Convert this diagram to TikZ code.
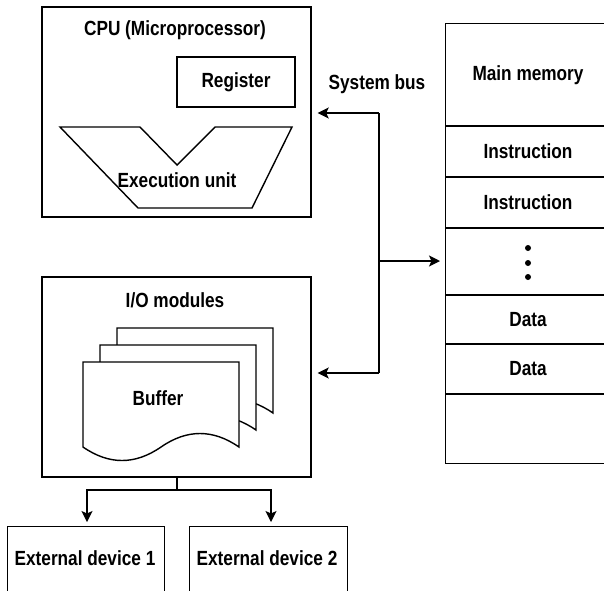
\documentclass[tikz,border=0pt]{standalone}
\usepackage{fontspec}
\setmainfont[FakeStretch=0.84,UprightFont={* Bold}]{Liberation Sans}
\usetikzlibrary{arrows.meta}
\tikzset{
  box/.style={draw, line width=1.4pt, rectangle, inner sep=0pt},
  txt/.style={font=\fontsize{20.5}{22}\selectfont, inner sep=0pt},
  arr/.style={line width=1.4pt, -{Stealth[length=11pt,width=11pt,inset=2.5pt]}},
  ln/.style={line width=1.4pt},
  docsh/.style={draw, line width=1.4pt, fill=white, line join=miter},
}
\newcommand\bufdoc[2]{%
  \path[docsh] (#1,#2) -- ++(156,0) -- ++(0,85)
    .. controls ++(-26,-18) and ++(26,-18) .. ++(-78,0)
    .. controls ++(-26,18) and ++(26,18) .. ++(-78,0) -- cycle;}
\begin{document}
\begin{tikzpicture}[x=1pt,y=-1pt]
\clip (0,0) rectangle (604,590);
\fill[white] (0,0) rectangle (604,590);
% CPU
\node[box, minimum width=269pt, minimum height=210pt] (cpu) at (176.5,112) {};
\node[txt] (cputitle) at (175,30) {CPU (Microprocessor)};
\node[box, minimum width=118pt, minimum height=50pt, txt] (reg) at (236,82) {Register};
\draw[ln, line join=miter] (60,127) -- (140,127) -- (177,165) -- (215,127) -- (292,127) -- (252,208) -- (138,208) -- cycle;
\node[txt] (exec) at (177,180) {Execution unit};
% I/O
\node[box, minimum width=269pt, minimum height=200pt] (io) at (176.5,377) {};
\node[txt] (iotitle) at (175,300) {I/O modules};
\bufdoc{117}{328}
\bufdoc{100}{345}
\bufdoc{83}{362}
\node[txt] (buffer) at (158,398) {Buffer};
% Memory
\node[box, minimum width=166pt, minimum height=440pt, anchor=north west] (mem) at (445,23) {};
\foreach \yy in {126,177,228,295,344,394} {\draw[line width=1.7pt] (445,\yy) -- (611,\yy);}
\node[txt] (m0) at (528,75) {Main memory};
\node[txt] (m1) at (528,151.5) {Instruction};
\node[txt] (m2) at (528,202.5) {Instruction};
\foreach \yy in {248,263,277} {\fill (528,\yy) circle (3pt);}
\node[txt] (m4) at (528,319.5) {Data};
\node[txt] (m5) at (528,369) {Data};
% External devices
\node[box, minimum width=157pt, minimum height=100pt, anchor=north west] (dev1) at (7,526) {};
\node[box, minimum width=158pt, minimum height=100pt, anchor=north west] (dev2) at (189,526) {};
\node[txt] (d1) at (85,558) {External device 1};
\node[txt] (d2) at (267,558) {External device 2};
% System bus
\node[txt] (bus) at (377,84) {System bus};
\coordinate (bt) at (379,113);
\coordinate (bb) at (379,373);
\coordinate (bm) at (379,261);
\draw[ln] (bt) -- (bb);
\draw[arr, shorten >=6pt] (bt) -- (cpu.east |- bt);
\draw[arr, shorten >=6pt] (bb) -- (io.east |- bb);
\draw[arr, shorten >=5pt] (bm) -- (mem.west |- bm);
% I/O to devices
\coordinate (j) at (177,490);
\draw[ln] (io.south -| j) -- (j);
\draw[arr, shorten >=4pt] (j) -| (dev1.north -| 87,0);
\draw[arr, shorten >=4pt] (j) -| (dev2.north -| 271,0);
\end{tikzpicture}
\end{document}
